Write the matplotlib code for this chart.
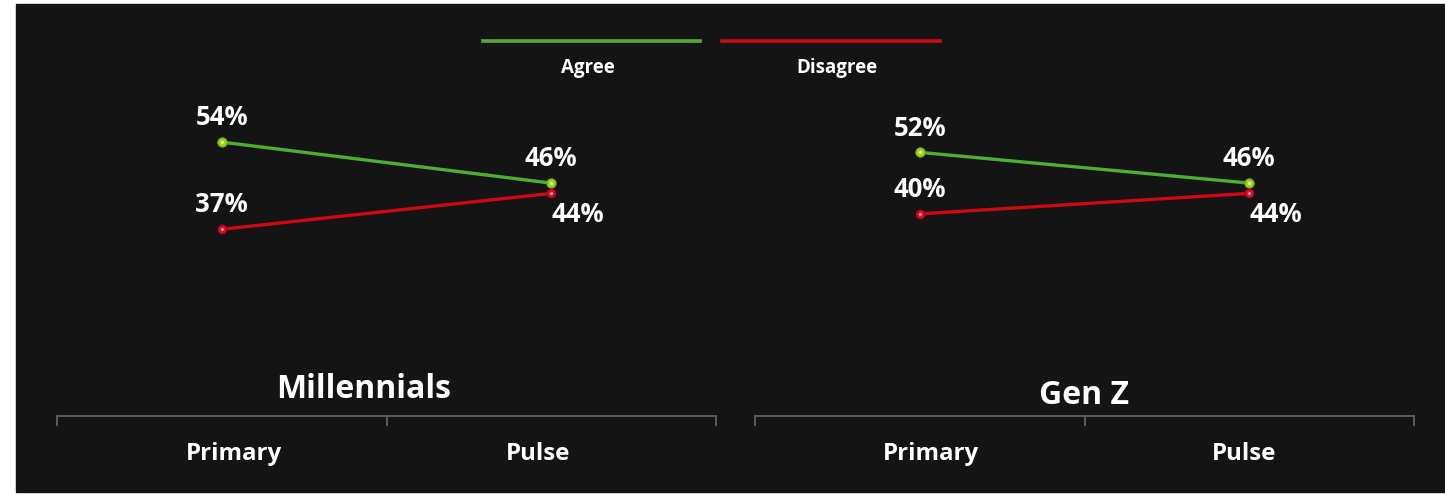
import matplotlib.pyplot as plt
from matplotlib.patches import Rectangle
from matplotlib.lines import Line2D
from matplotlib.ticker import FixedLocator
from matplotlib.transforms import ScaledTranslation

plt.rcParams['font.family'] = ['Open Sans', 'DejaVu Sans']

# data
waves = ['Primary', 'Pulse']
groups = ['Millennials', 'Gen Z']
agree = [[54, 46], [52, 46]]
disagree = [[37, 44], [40, 44]]

bg = '#141414'
green = '#4fae32'
red = '#cc0a12'
W, H = 1445, 495

fig = plt.figure(figsize=(W / 100, H / 100), dpi=100, facecolor='white')
# dark panel (image has a white margin on the left / top)
fig.patches.append(Rectangle((16 / W, 3 / H), 1 - 16 / W, 1 - 7 / H,
                             transform=fig.transFigure, color=bg, zorder=-5))

# legend drawn by hand: line with label underneath
for (x0, x1), lx, lab, col in [((483, 700), 588, 'Agree', green),
                               ((722, 940), 837, 'Disagree', red)]:
    fig.add_artist(Line2D([x0 / W, x1 / W], [1 - 41 / H] * 2, color=col, lw=2.6,
                          transform=fig.transFigure))
    fig.text(lx / W, 1 - 68 / H, lab, color='white', fontsize=13.5,
             fontweight='bold', ha='center', va='center')

panels = [(57, 716), (755, 1414)]
title_xy = [(364, 389), (1084, 396)]
label_dx = [(12, -13), (11, -5)]  # small pixel nudges of the category labels
ytop = 60   # pixel row of y=70
ybot = 416  # pixel row of axis line

for i, (px0, px1) in enumerate(panels):
    ax = fig.add_axes([px0 / W, 1 - ybot / H, (px1 - px0) / W, (ybot - ytop) / H])
    ax.set_facecolor('none')
    x = range(len(waves))
    ax.plot(x, agree[i], color=green, lw=2.4, zorder=3)
    ax.plot(x, disagree[i], color=red, lw=2.4, zorder=3)
    ax.scatter(x, agree[i], s=45, color='#9fd21c', edgecolors='#6aa312', lw=0.8, zorder=4)
    ax.scatter(x, disagree[i], s=40, color='#d9102a', edgecolors='#a80010', lw=0.8, zorder=4)
    ax.scatter(x, disagree[i], s=4, color='#ffb0c0', zorder=5, lw=0)
    ax.scatter(x, agree[i], s=6, color='#e6f59a', zorder=5, lw=0)

    for j in x:
        ax.annotate(f'{agree[i][j]}%', (j, agree[i][j]), xytext=(0, 17.5),
                    textcoords='offset points', ha='center', va='center',
                    color='white', fontsize=18.5, fontweight='bold')
        if j == 0:
            off = (0, 17.5)
        else:
            off = (19, -15)
        ax.annotate(f'{disagree[i][j]}%', (j, disagree[i][j]), xytext=off,
                    textcoords='offset points', ha='center', va='center',
                    color='white', fontsize=18.5, fontweight='bold')

    ax.set_xlim(-0.5, 1.5)
    ax.set_ylim(0.6, 70)
    for s in ['top', 'right', 'left']:
        ax.spines[s].set_visible(False)
    ax.spines['bottom'].set_color('#5c5c5c')
    ax.spines['bottom'].set_linewidth(1.4)
    ax.set_yticks([])
    ax.set_xticks(list(x))
    ax.set_xticklabels(waves, color='white', fontsize=17.3, fontweight='bold')
    ax.tick_params(axis='x', which='major', length=0, pad=19)
    ax.xaxis.set_minor_locator(FixedLocator([-0.5, 0.5, 1.5]))
    ax.tick_params(axis='x', which='minor', length=7, width=1.4, color='#5c5c5c')
    for lbl, dx in zip(ax.get_xticklabels(), label_dx[i]):
        lbl.set_transform(lbl.get_transform() + ScaledTranslation(dx / 100, 0, fig.dpi_scale_trans))

    tx, ty = title_xy[i]
    fig.text(tx / W, 1 - ty / H, groups[i], color='white',
             fontsize=23, fontweight='bold', ha='center', va='center')

fig.savefig('out.png', dpi=100, facecolor='white')
